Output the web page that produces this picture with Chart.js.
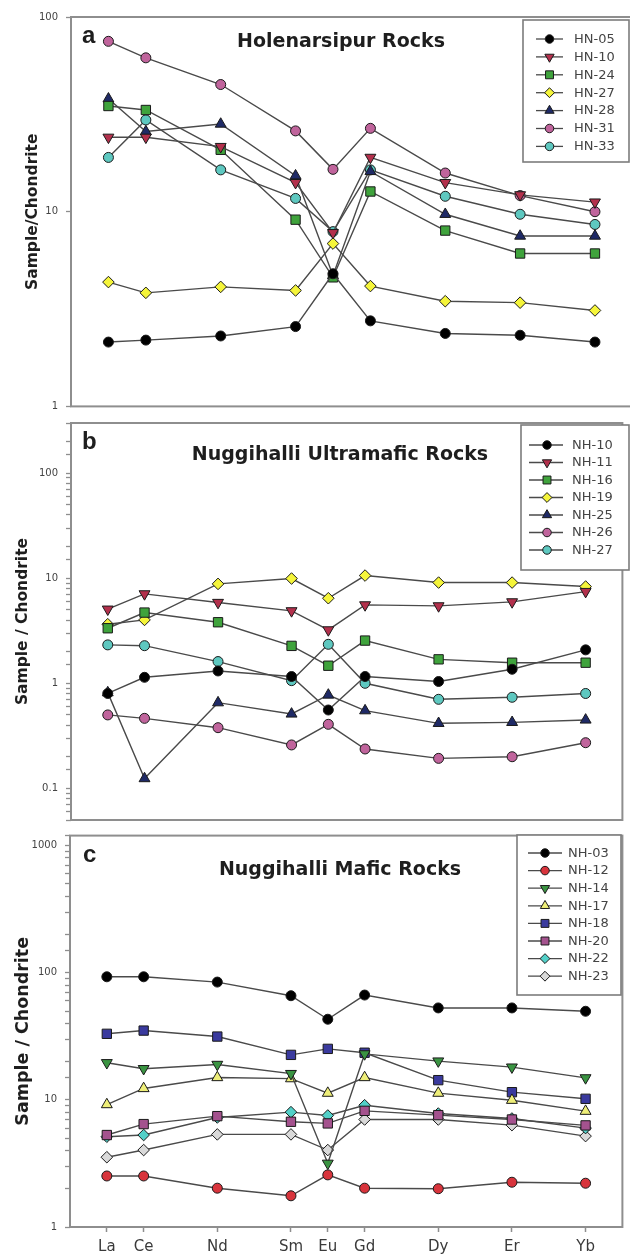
<!DOCTYPE html>
<html>
<head>
<meta charset="utf-8">
<script src="https://cdn.jsdelivr.net/npm/chart.js@4.4.1/dist/chart.umd.min.js"></script>
<style>
  html, body { margin: 0; padding: 0; background: #ffffff; overflow: hidden; }
  #fig { position: relative; width: 630px; height: 1259px; overflow: hidden; background: #ffffff; }
  #fig canvas { position: absolute; left: 0; }
</style>
</head>
<body>
<div id="fig">
  <canvas id="panelA" width="640" height="414" style="top:0px"></canvas>
  <canvas id="panelB" width="630" height="414" style="top:414px"></canvas>
  <canvas id="panelC" width="630" height="431" style="top:828px"></canvas>
</div>
<script>
// Rare earth elements on the x axis, placed by atomic number
const elements = ['La', 'Ce', 'Nd', 'Sm', 'Eu', 'Gd', 'Dy', 'Er', 'Yb'];
const atomicNumbers = [57, 58, 60, 62, 63, 64, 66, 68, 70];

// (a) Holenarsipur rocks, sample / chondrite
const hnSamples = ['HN-05', 'HN-10', 'HN-24', 'HN-27', 'HN-28', 'HN-31', 'HN-33'];
const hn05 = [2.14, 2.19, 2.30, 2.57, 4.8, 2.75, 2.37, 2.32, 2.14];
const hn10 = [24.1, 24.1, 21.6, 14.1, 7.8, 19.0, 14.1, 12.2, 11.2];
const hn24 = [34.9, 33.3, 20.8, 9.1, 4.6, 12.7, 8.0, 6.1, 6.1];
const hn27 = [4.35, 3.83, 4.11, 3.94, 6.86, 4.15, 3.47, 3.41, 3.11];
const hn28 = [38.0, 25.8, 28.2, 15.3, 4.7, 16.1, 9.7, 7.5, 7.5];
const hn31 = [75.0, 61.7, 45.0, 26.0, 16.5, 26.8, 15.8, 12.1, 10.0];
const hn33 = [19.0, 29.6, 16.4, 11.7, 7.9, 16.4, 12.0, 9.7, 8.6];

// (b) Nuggihalli ultramafic rocks
const nhUltramaficSamples = ['NH-10', 'NH-11', 'NH-16', 'NH-19', 'NH-25', 'NH-26', 'NH-27'];
const nh10 = [0.80, 1.14, 1.31, 1.16, 0.557, 1.16, 1.04, 1.36, 2.08];
const nh11 = [5.07, 7.09, 5.87, 4.89, 3.22, 5.57, 5.45, 5.95, 7.46];
const nh16 = [3.34, 4.71, 3.81, 2.27, 1.47, 2.55, 1.69, 1.57, 1.57];
const nh19 = [3.65, 4.01, 8.83, 9.93, 6.45, 10.6, 9.09, 9.09, 8.33];
const nh25 = [0.815, 0.124, 0.654, 0.511, 0.774, 0.549, 0.416, 0.425, 0.448];
const nh26 = [0.50, 0.464, 0.378, 0.259, 0.407, 0.237, 0.193, 0.200, 0.272];
const nh27 = [2.32, 2.28, 1.61, 1.06, 2.35, 1.00, 0.704, 0.736, 0.80];

// (c) Nuggihalli mafic rocks
const nhMaficSamples = ['NH-03', 'NH-12', 'NH-14', 'NH-17', 'NH-18', 'NH-20', 'NH-22', 'NH-23'];
const nh03 = [93.0, 93.0, 84.5, 66.0, 43.1, 66.8, 52.9, 52.9, 49.8];
const nh12 = [2.52, 2.52, 2.02, 1.76, 2.57, 2.02, 2.00, 2.25, 2.21];
const nh14 = [19.6, 17.6, 19.0, 16.1, 3.17, 23.0, 20.2, 18.1, 14.9];
const nh17 = [9.19, 12.3, 15.0, 14.7, 11.3, 15.0, 11.3, 9.94, 8.15];
const nh18 = [33.1, 35.1, 31.5, 22.6, 25.2, 23.5, 14.3, 11.5, 10.2];
const nh20 = [5.29, 6.45, 7.45, 6.73, 6.53, 8.20, 7.59, 7.01, 6.3];
const nh22 = [5.13, 5.29, 7.27, 8.01, 7.54, 9.08, 7.81, 7.14, 6.0];
const nh23 = [3.54, 4.03, 5.35, 5.35, 4.03, 7.01, 7.01, 6.33, 5.19];

// Labelled decades on each log axis
const decadesA = [1, 10, 100];
const decadesB = [0.1, 1, 10, 100];
const decadesC = [1, 10, 100, 1000];

// ---- marker looks ----
const SHAPES = {
  circle:  { style: 'circle',   rot: 0,   r: 5 },
  triDown: { style: 'triangle', rot: 180, r: 6.3 },
  triUp:   { style: 'triangle', rot: 0,   r: 6.3 },
  square:  { style: 'rect',     rot: 0,   r: 6.6 },
  diamond: { style: 'rectRot',  rot: 0,   r: 5.8 }
};
const looksAB = [
  { shape: SHAPES.circle,  fill: '#000000' },
  { shape: SHAPES.triDown, fill: '#b3304c' },
  { shape: SHAPES.square,  fill: '#3fa33c' },
  { shape: SHAPES.diamond, fill: '#f5f53a' },
  { shape: SHAPES.triUp,   fill: '#1f2a66' },
  { shape: SHAPES.circle,  fill: '#c0649c' },
  { shape: SHAPES.circle,  fill: '#5ec8c0' }
];
const looksC = [
  { shape: SHAPES.circle,  fill: '#000000' },
  { shape: SHAPES.circle,  fill: '#d8343c' },
  { shape: SHAPES.triDown, fill: '#3a9442' },
  { shape: SHAPES.triUp,   fill: '#eeee78' },
  { shape: SHAPES.square,  fill: '#3a3a9e' },
  { shape: SHAPES.square,  fill: '#a4528e' },
  { shape: SHAPES.diamond, fill: '#52d0c8' },
  { shape: SHAPES.diamond, fill: '#d9d9d9' }
];

const FONT = "'DejaVu Sans', 'Liberation Sans', Arial, sans-serif";
const LINE_COLOR = '#4a4a4a';
const FRAME_COLOR = '#8e8e8e';

// Box around the plotting area
const framePlugin = {
  id: 'frame',
  beforeDatasetsDraw(chart) {
    const { ctx, chartArea: a } = chart;
    ctx.save();
    ctx.strokeStyle = FRAME_COLOR;
    ctx.lineWidth = 2;
    ctx.strokeRect(a.left, a.top, a.right - a.left, a.bottom - a.top);
    ctx.restore();
  }
};

// Panel letter and heading inside the plot
const panelTextPlugin = {
  id: 'panelText',
  afterDatasetsDraw(chart, args, o) {
    const { ctx } = chart;
    ctx.save();
    ctx.fillStyle = '#1e1e1e';
    ctx.textBaseline = 'alphabetic';
    ctx.textAlign = 'left';
    ctx.font = "bold 24px 'Liberation Sans', Arial, sans-serif";
    ctx.fillText(o.letter, o.letterX, o.letterY);
    ctx.textAlign = 'center';
    ctx.textBaseline = 'middle';
    ctx.font = 'bold 19px ' + FONT;
    ctx.fillText(o.title, o.titleX, o.titleY);
    ctx.restore();
  }
};

// Sample key: line segment with marker, then sample name
const sampleKeyPlugin = {
  id: 'sampleKey',
  afterDraw(chart, args, o) {
    const { ctx } = chart;
    ctx.save();
    ctx.fillStyle = '#ffffff';
    ctx.fillRect(o.x0, o.y0, o.x1 - o.x0, o.y1 - o.y0);
    ctx.strokeStyle = '#7c7c7c';
    ctx.lineWidth = 1.6;
    ctx.strokeRect(o.x0, o.y0, o.x1 - o.x0, o.y1 - o.y0);
    chart.data.datasets.forEach((ds, i) => {
      const y = o.firstY + i * o.step;
      ctx.strokeStyle = LINE_COLOR;
      ctx.lineWidth = 1.3;
      ctx.beginPath();
      ctx.moveTo(o.lineX0, y);
      ctx.lineTo(o.lineX1, y);
      ctx.stroke();
      ctx.fillStyle = ds.pointBackgroundColor;
      ctx.strokeStyle = '#1a1a1a';
      ctx.lineWidth = 1;
      Chart.helpers.drawPoint(ctx, {
        pointStyle: ds.pointStyle,
        rotation: ds.pointRotation,
        radius: ds.pointRadius * 0.85,
        borderWidth: 1
      }, o.markX, y);
      ctx.fillStyle = '#444444';
      ctx.font = '13px ' + FONT;
      ctx.textAlign = 'left';
      ctx.textBaseline = 'middle';
      ctx.fillText(ds.label, o.textX, y + 0.5);
    });
    ctx.restore();
  }
};

const isDecade = (v, list) => list.some(t => Math.abs(v - t) < t * 1e-6);

function buildPanel(canvasId, p) {
  const datasets = p.names.map((name, i) => {
    const look = p.looks[i];
    return {
      label: name,
      data: p.values[i].map((v, j) => ({ x: atomicNumbers[j], y: v })),
      borderColor: LINE_COLOR,
      borderWidth: 1.4,
      pointStyle: look.shape.style,
      pointRotation: look.shape.rot,
      pointRadius: look.shape.r,
      pointHoverRadius: look.shape.r,
      pointBackgroundColor: look.fill,
      pointBorderColor: '#1a1a1a',
      pointBorderWidth: 1,
      fill: false,
      tension: 0
    };
  });

  return new Chart(document.getElementById(canvasId), {
    type: 'line',
    data: { datasets },
    plugins: [framePlugin, panelTextPlugin, sampleKeyPlugin],
    options: {
      responsive: false,
      animation: false,
      devicePixelRatio: 1,
      events: [],
      layout: { padding: { top: p.padTop, right: p.padRight, bottom: 0, left: 0 } },
      plugins: {
        legend: { display: false },
        tooltip: { enabled: false },
        panelText: p.text,
        sampleKey: p.key
      },
      scales: {
        x: {
          type: 'linear',
          min: 56,
          max: 71,
          afterBuildTicks: s => { s.ticks = atomicNumbers.map(v => ({ value: v })); },
          afterFit: s => { s.height = p.xAxisHeight; s.paddingLeft = 0; s.paddingRight = 0; },
          ticks: {
            display: p.showElements,
            autoSkip: false,
            maxRotation: 0,
            padding: 6,
            color: '#3a3a3a',
            font: { family: FONT, size: 15 },
            callback: v => elements[atomicNumbers.indexOf(v)] ?? ''
          },
          grid: {
            drawOnChartArea: false,
            drawTicks: p.showElements,
            tickLength: 5,
            tickColor: FRAME_COLOR,
            tickWidth: 1.5
          },
          border: { display: false }
        },
        y: {
          type: 'logarithmic',
          min: p.yMin,
          max: p.yMax,
          afterBuildTicks: s => {
            if (!p.minorTicks) s.ticks = s.ticks.filter(t => isDecade(t.value, p.decades));
          },
          afterFit: s => { s.width = p.yAxisWidth; s.paddingTop = 0; s.paddingBottom = 0; },
          ticks: {
            autoSkip: false,
            padding: 8,
            color: '#444444',
            font: { family: FONT, size: 10 },
            callback: v => isDecade(v, p.decades) ? String(+v.toPrecision(6)) : ''
          },
          grid: {
            drawOnChartArea: false,
            drawTicks: true,
            tickLength: 5,
            tickColor: FRAME_COLOR,
            tickWidth: 1.3
          },
          border: { display: false },
          title: {
            display: true,
            text: p.yTitle,
            color: '#1e1e1e',
            font: { family: FONT, size: p.yTitleSize, weight: 'bold' },
            padding: { top: p.yTitleOffset, bottom: 0 }
          }
        }
      }
    }
  });
}

buildPanel('panelA', {
  names: hnSamples,
  values: [hn05, hn10, hn24, hn27, hn28, hn31, hn33],
  looks: looksAB,
  yMin: 1, yMax: 100, decades: decadesA, minorTicks: false,
  yTitle: 'Sample/Chondrite', yTitleOffset: 24, yTitleSize: 15.5,
  padTop: 17, padRight: 6, xAxisHeight: 6, yAxisWidth: 71,
  showElements: false,
  text: { letter: 'a', letterX: 82, letterY: 43, title: 'Holenarsipur Rocks', titleX: 341, titleY: 42 },
  key: { x0: 523, y0: 20, x1: 629, y1: 162, firstY: 39, step: 17.9,
         lineX0: 536, lineX1: 563, markX: 549.5, textX: 574 }
});

buildPanel('panelB', {
  names: nhUltramaficSamples,
  values: [nh10, nh11, nh16, nh19, nh25, nh26, nh27],
  looks: looksAB,
  yMin: 0.05, yMax: 300, decades: decadesB, minorTicks: true,
  yTitle: 'Sample / Chondrite', yTitleOffset: 14, yTitleSize: 15.5,
  padTop: 9, padRight: 2, xAxisHeight: 8, yAxisWidth: 71,
  showElements: false,
  text: { letter: 'b', letterX: 82, letterY: 35, title: 'Nuggihalli Ultramafic Rocks', titleX: 340, titleY: 41 },
  key: { x0: 521, y0: 11, x1: 629, y1: 156, firstY: 31, step: 17.5,
         lineX0: 529, lineX1: 563, markX: 547, textX: 572 }
});

buildPanel('panelC', {
  names: nhMaficSamples,
  values: [nh03, nh12, nh14, nh17, nh18, nh20, nh22, nh23],
  looks: looksC,
  yMin: 1, yMax: 1200, decades: decadesC, minorTicks: true,
  yTitle: 'Sample / Chondrite', yTitleOffset: 13, yTitleSize: 17.5,
  padTop: 5, padRight: 3, xAxisHeight: 32, yAxisWidth: 70,
  showElements: true,
  text: { letter: 'c', letterX: 83, letterY: 34, title: 'Nuggihalli Mafic Rocks', titleX: 340, titleY: 42 },
  key: { x0: 517, y0: 7, x1: 621, y1: 167, firstY: 25, step: 17.6,
         lineX0: 528, lineX1: 562, markX: 545, textX: 568 }
});
</script>
</body>
</html>
